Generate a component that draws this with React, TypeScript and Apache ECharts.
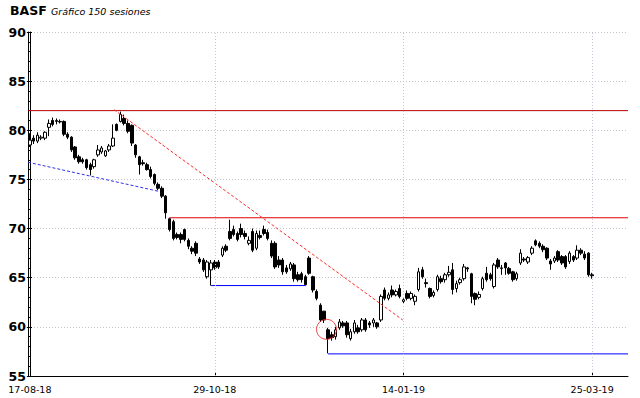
import React, { useEffect, useRef } from "react";
import * as echarts from "echarts";

// ---- Data ----
const opens = [
  78.5, 79.2, 78.9, 79.2, 79.2, 80.3, 81.0, 80.9, 80.9, 80.9,
  79.6, 79.3, 78.3, 77.3, 77.0, 77.0, 76.5, 76.3, 77.5, 77.8,
  77.4, 78.0, 78.4, 80.6, 80.9, 81.2, 80.7, 80.5, 78.5, 77.3,
  76.7, 76.5, 76.0, 75.5, 74.5, 74.1, 73.3, 71.0, 70.7, 69.4,
  69.4, 69.9, 68.8, 68.0, 68.5, 66.9, 66.8, 65.1, 65.8, 66.6,
  66.6, 67.3, 68.2, 69.7, 69.9, 69.5, 70.0, 69.5, 68.5, 69.7,
  68.0, 69.3, 69.9, 69.6, 68.5, 68.5, 66.8, 66.8, 66.0, 65.9,
  66.3, 65.3, 65.4, 65.1, 67.0, 65.1, 63.6, 62.2, 61.6, 59.7,
  59.2, 59.0, 59.9, 60.4, 60.4, 58.8, 59.5, 59.9, 59.7, 60.7,
  60.4, 60.4, 60.4, 60.7, 63.75, 62.9, 63.75, 63.25, 63.9, 62.75,
  63.4, 62.9, 62.6, 63.8, 65.8, 64.5, 63.9, 63.2, 63.8, 64.9,
  64.8, 65.3, 65.8, 63.9, 64.5, 64.9, 66.0, 65.4, 63.4, 63.0,
  63.9, 65.45, 65.3, 64.1, 66.8, 66.0, 66.5, 65.95, 65.6, 64.9,
  66.5, 66.9, 66.6, 67.5, 68.75, 68.5, 68.2, 68.0, 66.7, 66.7,
  67.65, 67.15, 67.15, 66.65, 67.15, 67.0, 67.8, 67.4, 67.5, 65.3,
];
const closes = [
  79.0, 78.9, 79.5, 79.3, 79.8, 80.7, 80.6, 81.0, 80.85, 79.6,
  79.3, 78.0, 77.2, 76.8, 76.8, 76.2, 76.0, 77.0, 78.0, 78.2,
  77.9, 78.4, 79.2, 80.0, 81.6, 80.7, 79.9, 78.7, 77.5, 76.5,
  76.6, 76.0, 75.3, 74.6, 74.1, 73.3, 71.6, 69.9, 69.0, 69.1,
  68.9, 68.9, 68.2, 67.7, 67.5, 66.6, 65.8, 66.6, 66.5, 66.0,
  66.1, 68.0, 67.8, 69.0, 69.4, 68.9, 69.4, 69.2, 68.8, 67.8,
  69.5, 69.1, 69.5, 69.0, 67.2, 66.1, 66.3, 65.6, 65.6, 66.4,
  64.9, 64.8, 64.8, 64.3, 65.45, 63.75, 62.9, 60.7, 60.7, 58.8,
  58.9, 59.7, 60.5, 60.1, 59.2, 59.5, 60.4, 59.5, 60.7, 59.7,
  60.2, 60.7, 60.0, 63.1, 62.9, 63.25, 63.25, 63.6, 63.1, 62.6,
  62.9, 63.4, 63.1, 65.6, 65.1, 64.4, 63.1, 63.5, 65.1, 64.6,
  65.3, 65.55, 63.8, 64.4, 64.8, 66.1, 65.9, 63.1, 62.8, 63.3,
  64.9, 64.8, 64.9, 66.3, 66.1, 65.95, 66.0, 65.45, 64.8, 65.4,
  67.5, 66.8, 67.05, 68.0, 68.35, 68.2, 67.85, 67.0, 66.4, 67.0,
  66.8, 66.5, 66.1, 67.5, 66.8, 67.8, 67.5, 67.0, 65.3, 65.2,
];
const lows = [
  78.3, 78.6, 78.7, 79.0, 79.0, 79.4, 80.4, 80.6, 80.7, 79.4,
  79.1, 77.8, 77.0, 76.6, 76.6, 76.0, 75.4, 76.1, 77.3, 77.6,
  77.3, 77.8, 78.3, 79.9, 80.8, 80.5, 79.7, 78.4, 77.2, 75.5,
  76.4, 75.9, 75.1, 74.4, 73.9, 73.1, 71.0, 69.7, 68.8, 68.9,
  68.5, 68.7, 67.9, 67.4, 67.2, 66.4, 65.6, 64.9, 64.2, 65.8,
  65.9, 67.1, 67.6, 68.8, 69.2, 68.7, 69.1, 68.9, 68.3, 67.6,
  67.8, 68.9, 69.3, 68.8, 67.0, 65.9, 66.0, 65.3, 65.4, 65.7,
  64.6, 64.6, 64.5, 64.2, 65.3, 63.5, 62.7, 60.5, 60.4, 57.3,
  58.6, 58.7, 59.7, 59.9, 58.9, 58.6, 59.3, 59.3, 59.5, 59.5,
  59.9, 60.0, 59.8, 60.5, 62.7, 62.7, 63.0, 63.1, 62.9, 62.4,
  62.7, 62.7, 62.2, 63.6, 64.9, 64.0, 62.9, 63.0, 63.6, 64.4,
  64.5, 65.1, 63.3, 63.5, 64.3, 64.7, 65.6, 62.4, 62.2, 62.8,
  63.7, 64.6, 64.7, 63.9, 65.9, 65.3, 65.3, 65.3, 64.6, 64.7,
  66.3, 66.6, 66.4, 67.3, 68.2, 68.0, 67.6, 66.8, 65.8, 66.5,
  66.6, 66.3, 65.9, 66.4, 66.6, 66.8, 67.3, 66.8, 65.1, 64.9,
];
const highs = [
  79.7, 79.5, 79.8, 79.5, 79.9, 81.1, 81.3, 81.2, 81.1, 81.0,
  79.8, 79.4, 78.4, 77.5, 77.2, 77.1, 76.7, 77.1, 78.5, 78.4,
  78.0, 78.6, 80.6, 80.7, 81.9, 81.6, 81.0, 80.6, 78.6, 77.4,
  77.0, 76.7, 76.3, 75.6, 74.7, 74.3, 73.4, 71.1, 70.9, 69.6,
  69.6, 70.0, 69.0, 68.2, 68.7, 67.1, 67.0, 66.8, 66.8, 66.8,
  66.8, 68.2, 68.4, 70.9, 70.3, 69.7, 70.5, 69.8, 69.2, 70.0,
  69.8, 69.8, 70.3, 69.9, 68.8, 68.7, 67.2, 67.0, 66.3, 66.6,
  66.5, 65.6, 65.6, 65.3, 67.2, 65.2, 63.8, 62.4, 61.6, 59.9,
  59.5, 60.0, 60.8, 60.6, 60.6, 59.8, 60.7, 60.2, 60.9, 60.9,
  60.6, 60.9, 60.5, 63.3, 64.0, 63.5, 64.2, 63.8, 64.3, 62.9,
  63.7, 63.6, 63.3, 66.0, 66.1, 64.9, 64.0, 63.7, 65.3, 65.2,
  65.5, 66.2, 66.5, 64.7, 65.0, 66.4, 66.1, 65.5, 63.5, 63.6,
  65.1, 66.1, 65.5, 66.5, 67.0, 66.3, 66.6, 66.1, 65.7, 65.6,
  67.9, 67.1, 67.2, 68.2, 68.9, 68.7, 68.4, 68.1, 66.9, 67.2,
  67.8, 67.3, 67.3, 67.7, 67.3, 68.3, 68.0, 67.7, 67.6, 65.5,
];

// x-axis tick labels (session index -> date)
const tickIndexes = [0, 49, 99, 149];
const tickLabels = ["17-08-18", "29-10-18", "14-01-19", "25-03-19"];
const slotCount = 159; // 150 sessions + empty space at the right

// Drawn lines, in (session index, price)
const resistanceTop = [[-0.5, 82.0], [158.5, 82.0]];
const resistanceMid = [[37, 71.1], [158.5, 71.1]];
const supportDashed = [[-0.5, 76.75], [34, 73.8]];
const downTrend = [[22.3, 82.1], [98.8, 60.7]];
const supportMid = [[48, 64.2], [73, 64.2]];
const supportLow = [[79, 57.25], [158.5, 57.25]];
const circleMark = [[78.6, 59.75]];

export default function App() {
  const ref = useRef<HTMLDivElement>(null);
  useEffect(() => {
    if (!ref.current) return;
    const chart = echarts.init(ref.current, null, { renderer: "svg" });
    const categories = Array.from({ length: slotCount }, (_, i) => String(i));
    const candles = opens.map((o, i) => [o, closes[i], lows[i], highs[i]]);
    const isTick = (idx: number) => tickIndexes.indexOf(idx) >= 0;
    const lineSeries = (data: number[][], color: string, dashed: boolean) => ({
      type: "line",
      xAxisIndex: 1,
      yAxisIndex: 0,
      data,
      symbol: "none",
      silent: true,
      z: 3,
      lineStyle: { color, width: 1, type: dashed ? [3, 2] : "solid" },
    });
    chart.setOption({
      animation: false,
      backgroundColor: "#fff",
      title: [
        {
          text: "BASF",
          left: 10,
          top: 4,
          padding: 0,
          textStyle: { fontFamily: "DejaVu Sans", fontWeight: "bold", fontSize: 12.5, color: "#000" },
        },
        {
          text: "Gráfico 150 sesiones",
          left: 51,
          top: 6,
          padding: 0,
          textStyle: { fontFamily: "DejaVu Sans", fontStyle: "italic", fontWeight: "normal", fontSize: 9.5, color: "#000" },
        },
      ],
      grid: { left: 28, right: 12, top: 32, bottom: 22, containLabel: false },
      xAxis: [
        {
          type: "category",
          data: categories,
          boundaryGap: true,
          axisLine: { lineStyle: { color: "#000", width: 1 } },
          axisTick: { show: true, inside: true, length: 4, alignWithLabel: true, interval: (idx: number) => isTick(idx), lineStyle: { color: "#000" } },
          axisLabel: {
            interval: (idx: number) => isTick(idx),
            formatter: (_v: string, idx: number) => tickLabels[tickIndexes.indexOf(idx)] ?? "",
            fontFamily: "DejaVu Sans",
            fontSize: 9.5,
            color: "#000",
            margin: 8,
          },
          splitLine: { show: false },
        },
        { type: "value", min: -0.5, max: 158.5, show: false },
      ],
      yAxis: [
        {
          type: "value",
          min: 55,
          max: 90,
          interval: 5,
          axisLine: { show: true, lineStyle: { color: "#000", width: 1 } },
          axisTick: { show: true, inside: false, length: 3, lineStyle: { color: "#000" } },
          axisLabel: { fontFamily: "DejaVu Sans", fontWeight: "bold", fontSize: 12.5, color: "#000", margin: 2 },
          splitLine: { show: true, lineStyle: { color: "#c4c4c4", type: [1, 2], width: 1 } },
        },
        {
          type: "value",
          min: 55,
          max: 90,
          interval: 5,
          position: "left",
          offset: 0,
          axisLine: { show: true, lineStyle: { color: "#000", width: 1 } },
          axisLabel: { show: false },
          splitLine: { show: false },
          axisTick: { show: true, inside: true, length: 4, lineStyle: { color: "#000", width: 1 } },
          minorTick: { show: true, splitNumber: 5, length: 3, lineStyle: { color: "#000", width: 1 } },
        },
      ],
      series: [
        {
          type: "line",
          xAxisIndex: 1,
          yAxisIndex: 0,
          data: [],
          silent: true,
          z: 1,
          markLine: {
            silent: true,
            symbol: ["none", "none"],
            label: { show: false },
            lineStyle: { color: "#c8c4d8", type: [1, 2], width: 1 },
            data: tickIndexes.slice(1).map((x) => ({ xAxis: x })),
          },
        },
        {
          type: "candlestick",
          xAxisIndex: 0,
          yAxisIndex: 0,
          data: candles,
          barWidth: 3,
          z: 2,
          itemStyle: {
            color: "#ffffff",
            color0: "#000000",
            borderColor: "#000000",
            borderColor0: "#000000",
            borderWidth: 1,
          },
        },
        lineSeries(resistanceTop, "#b80000", false),
        lineSeries(resistanceMid, "#e00000", false),
        lineSeries(supportDashed, "#3030e8", true),
        lineSeries(downTrend, "#ff2a2a", true),
        lineSeries(supportMid, "#0000ff", false),
        lineSeries(supportLow, "#0000ff", false),
        {
          type: "scatter",
          xAxisIndex: 1,
          yAxisIndex: 0,
          data: circleMark,
          symbol: "circle",
          symbolSize: 20,
          silent: true,
          z: 4,
          itemStyle: { color: "rgba(0,0,0,0)", borderColor: "#ee2020", borderWidth: 1 },
        },
      ],
    });
    return () => chart.dispose();
  }, []);
  return (
    <div
      ref={ref}
      style={{ position: "fixed", left: 0, top: 0, width: 640, height: 398, background: "#fff" }}
    />
  );
}
